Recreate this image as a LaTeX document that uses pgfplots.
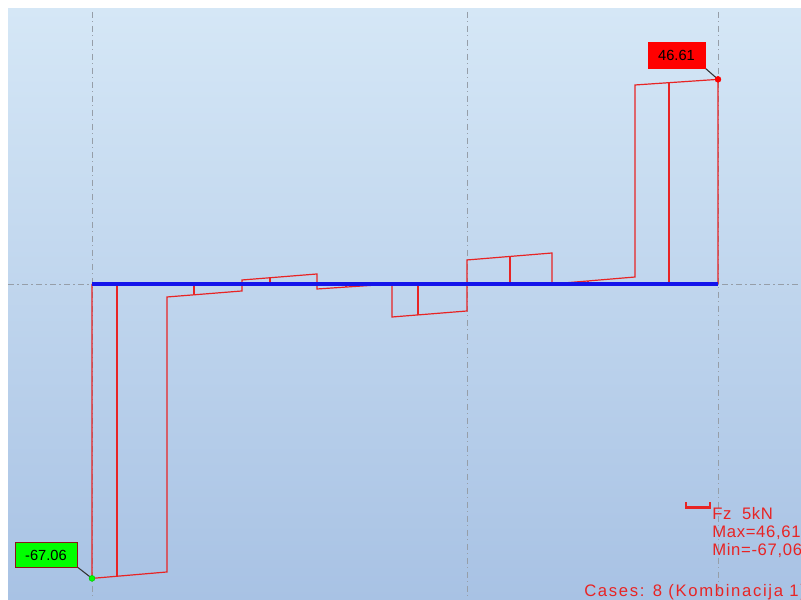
\documentclass[border=0pt]{standalone}
\usepackage{pgfplots}
\pgfplotsset{compat=1.18}
\usepackage{fontspec}
\setmainfont{Liberation Sans}
\definecolor{bgtop}{RGB}{213,231,246}
\definecolor{bgbot}{RGB}{168,194,228}
\definecolor{dred}{RGB}{232,36,36}
\definecolor{dblue}{RGB}{20,20,235}
\definecolor{gridg}{RGB}{150,158,168}
\definecolor{lblgreen}{RGB}{0,255,0}
\definecolor{lblred}{RGB}{255,0,0}
\newfontfamily\legfont[LetterSpace=4]{Liberation Sans}
\newfontfamily\casefont[LetterSpace=10]{Liberation Sans}
\begin{document}
\begin{tikzpicture}
\begin{axis}[
  scale only axis, width=600.75pt, height=450pt,
  xmin=0, xmax=801, ymin=-71.98, ymax=64.69,
  hide axis, clip=true,
  unbounded coords=jump,
]
% background panel
\path[top color=bgtop, bottom color=bgbot, middle color=bgtop!50!bgbot] (axis cs:8,62.64) rectangle (axis cs:801,-71.98);
% grid dash-dot lines
\addplot[gridg, line width=0.6pt, dash pattern=on 4.5pt off 2.6pt on 0.8pt off 2.6pt] coordinates {(8,0) (801,0)};
\addplot[gridg, line width=0.6pt, dash pattern=on 4.5pt off 2.6pt on 0.8pt off 2.6pt] coordinates {(92,62) (92,-71.98) (nan,nan) (467,62) (467,-71.98) (nan,nan) (718,62) (718,-71.98)};
% shear force diagram outline
\addplot[dred, line width=0.9pt] coordinates {
 (92,0) (92,-67.06) (167,-65.6) (167,-2.96) (242,-1.59) (242,0.91) (317,2.28)
 (317,-1.14) (392,0) (392,-7.52) (467,-6.15) (467,5.47) (552,7.06) (552,0)
 (635,1.59) (635,45.33) (718,46.61) (718,0)};
% intermediate ordinates
\addplot[dred, line width=0.9pt] coordinates {
 (117,0) (117,-66.57) (nan,nan) (194,0) (194,-2.47) (nan,nan)
 (270,0) (270,1.42) (nan,nan) (346,0) (346,-0.70) (nan,nan)
 (418,0) (418,-7.05) (nan,nan) (510,0) (510,6.27) (nan,nan)
 (588,0) (588,0.69) (nan,nan) (669,0) (669,45.85)};
% beam axis
\addplot[dblue, line width=2.4pt] coordinates {(92,0) (718,0)};
% extreme labels
\draw[black!80, line width=0.8pt] (axis cs:76,-64.24) -- (axis cs:92,-67.06);
\draw[black!80, line width=0.8pt] (axis cs:705,49.20) -- (axis cs:718,46.61);
\addplot[only marks, mark=*, mark size=2.2pt, lblgreen, mark options={draw=lblgreen!80!black}] coordinates {(92,-67.06)};
\addplot[only marks, mark=*, mark size=2.2pt, lblred] coordinates {(718,46.61)};
\node[fill=lblgreen, draw=dred!60!black, line width=0.6pt, minimum width=46.5pt, minimum height=18.75pt, inner sep=0pt, font=\fontsize{11}{12}\selectfont]
  at (axis cs:46,-61.73) {-67.06};
\node[fill=lblred, draw=lblred, line width=0.6pt, minimum width=42.75pt, minimum height=19.5pt, inner sep=0pt, font=\fontsize{11}{12}\selectfont]
  at (axis cs:676.5,52.16) {46.61};
% legend text
\draw[dred, line width=2.2pt] (axis cs:686,-49.7) -- (axis cs:686,-51.0) -- (axis cs:710,-51.0) -- (axis cs:710,-49.7);
\node[anchor=west, inner sep=0pt, text=dred, font=\legfont\fontsize{12.5}{14}\selectfont] at (axis cs:712,-52.3) {Fz\ \ 5kN};
\node[anchor=west, inner sep=0pt, text=dred, font=\legfont\fontsize{12.5}{14}\selectfont] at (axis cs:712,-56.6) {Max=46,61};
\node[anchor=west, inner sep=0pt, text=dred, font=\legfont\fontsize{12.5}{14}\selectfont] at (axis cs:712,-60.8) {Min=-67,06};
\node[anchor=west, inner sep=0pt, text=dred, font=\casefont\fontsize{12.5}{14}\selectfont] at (axis cs:584,-70.2) {Cases: 8 (Kombinacija 1)};
\coordinate (SW) at (rel axis cs:0,0);
\coordinate (NE) at (rel axis cs:1,1);
\end{axis}
\pgfresetboundingbox
\path[use as bounding box] (SW) rectangle (NE);
\end{tikzpicture}
\end{document}
